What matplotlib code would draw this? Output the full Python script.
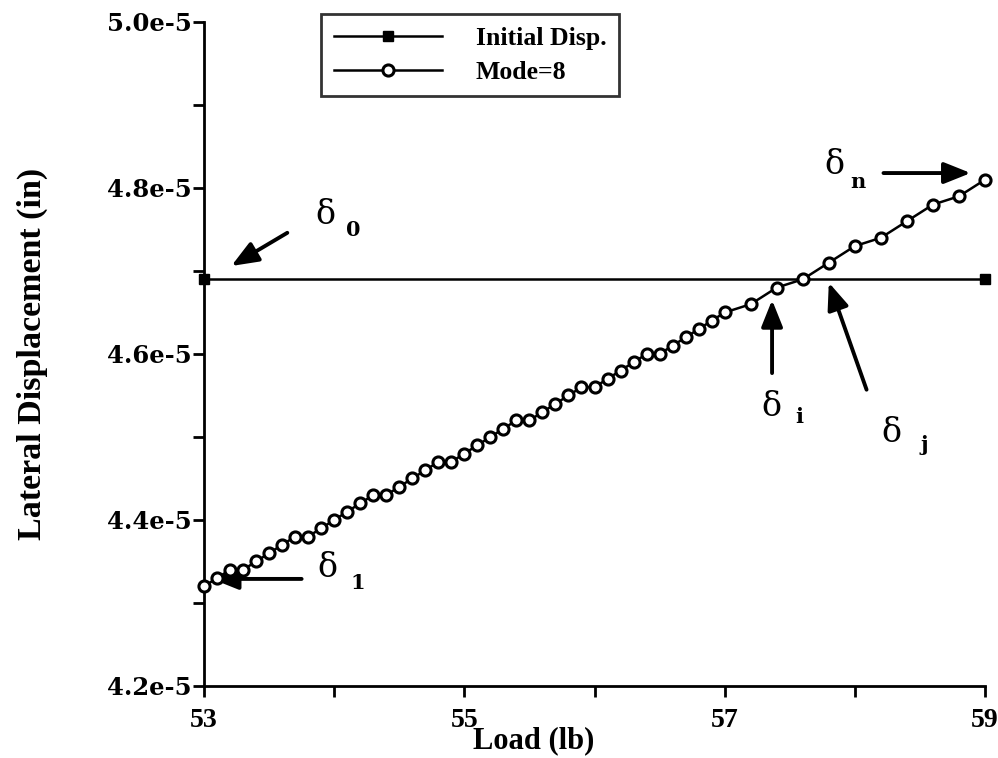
import numpy as np
import matplotlib
matplotlib.use("Agg")
import matplotlib.pyplot as plt
from matplotlib.ticker import MultipleLocator

# data (displacement in units of 1e-5 in)
load_mode = [53.0, 53.1, 53.2, 53.3, 53.4, 53.5, 53.6, 53.7, 53.8, 53.9,
             54.0, 54.1, 54.2, 54.3, 54.4, 54.5, 54.6, 54.7, 54.8, 54.9,
             55.0, 55.1, 55.2, 55.3, 55.4, 55.5, 55.6, 55.7, 55.8, 55.9,
             56.0, 56.1, 56.2, 56.3, 56.4, 56.5, 56.6, 56.7, 56.8, 56.9,
             57.0, 57.2, 57.4, 57.6, 57.8, 58.0, 58.2, 58.4, 58.6, 58.8, 59.0]
disp_mode = [4.32, 4.33, 4.34, 4.34, 4.35, 4.36, 4.37, 4.38, 4.38, 4.39,
             4.40, 4.41, 4.42, 4.43, 4.43, 4.44, 4.45, 4.46, 4.47, 4.47,
             4.48, 4.49, 4.50, 4.51, 4.52, 4.52, 4.53, 4.54, 4.55, 4.56,
             4.56, 4.57, 4.58, 4.59, 4.60, 4.60, 4.61, 4.62, 4.63, 4.64,
             4.65, 4.66, 4.68, 4.69, 4.71, 4.73, 4.74, 4.76, 4.78, 4.79, 4.81]
load_init = [53.0, 59.0]
disp_init = [4.69, 4.69]

x_ticks = [53, 55, 57, 59]
y_ticks = [4.2, 4.4, 4.6, 4.8, 5.0]

scale = 1e-5
disp_mode = np.array(disp_mode) * scale
disp_init = np.array(disp_init) * scale

fig = plt.figure(figsize=(9.98, 7.58), dpi=100)
ax = fig.add_axes([0.2044, 0.095, 0.7826, 0.876])

ax.plot(load_init, disp_init, color="black", lw=1.8, marker="s", ms=7,
        mfc="black", mec="black", label="Initial Disp.", clip_on=False, zorder=3)
ax.plot(load_mode, disp_mode, color="black", lw=1.8, marker="o", ms=8,
        mfc="white", mec="black", mew=2.2, label="Mode=8", clip_on=False, zorder=4)

ax.set_xlim(53, 59)
ax.set_ylim(4.2e-5, 5.0e-5)

# ticks - labels only every other tick
ax.set_xticks(x_ticks, labels=[str(t) for t in x_ticks],
              fontfamily="Liberation Serif", fontweight="bold", fontsize=20)
ax.set_yticks(np.array(y_ticks) * scale, labels=[f"{t:.1f}e-5" for t in y_ticks],
              fontfamily="DejaVu Serif", fontweight="bold", fontsize=17.5)
ax.xaxis.set_minor_locator(MultipleLocator(1))
ax.yaxis.set_minor_locator(MultipleLocator(0.1e-5))

ax.tick_params(which="both", direction="out", width=2, length=8, color="black")
ax.tick_params(axis="x", pad=8)
ax.tick_params(axis="y", pad=1)

for side in ["top", "right"]:
    ax.spines[side].set_visible(False)
for side in ["left", "bottom"]:
    ax.spines[side].set_linewidth(2)

ax.set_xlabel("Load (lb)", fontfamily="Liberation Serif", fontweight="bold",
              fontsize=22)
ax.xaxis.set_label_coords(0.4225, -0.06)
ax.set_ylabel("Lateral Displacement (in)", fontfamily="Liberation Serif",
              fontweight="bold", fontsize=24.5)
ax.yaxis.set_label_coords(-0.2, 0.5)

leg = ax.legend(loc="upper left", bbox_to_anchor=(0.322, 0.981),
                bbox_transform=fig.transFigure, frameon=True, fancybox=False,
                edgecolor="black", handlelength=4.2, handletextpad=1.3,
                borderpad=0.5, labelspacing=0.4, borderaxespad=0,
                prop={"family": "Liberation Serif", "weight": "bold", "size": 18.5})
leg.get_frame().set_linewidth(2)

# delta annotations
arrow = dict(arrowstyle="-|>,head_length=0.9,head_width=0.36", lw=2.8,
             color="black", shrinkA=0, shrinkB=0, mutation_scale=18)
dfont = dict(fontfamily="DejaVu Serif", fontsize=24,
             ha="center", va="center")
sfont = dict(fontfamily="DejaVu Serif", fontweight="bold", fontsize=15,
             ha="center", va="center")

ax.annotate("", xy=(53.21, 4.706e-5), xytext=(53.64, 4.746e-5), arrowprops=arrow)
ax.text(53.93, 4.767e-5, "δ", **dfont)
ax.text(54.15, 4.749e-5, "0", **sfont)

ax.annotate("", xy=(53.06, 4.329e-5), xytext=(53.75, 4.329e-5), arrowprops=arrow)
ax.text(53.95, 4.342e-5, "δ", **dfont)
ax.text(54.18, 4.324e-5, "1", **sfont)

ax.annotate("", xy=(57.364, 4.665e-5), xytext=(57.364, 4.577e-5), arrowprops=arrow)
ax.text(57.36, 4.536e-5, "δ", **dfont)
ax.text(57.57, 4.524e-5, "i", **sfont)

ax.annotate("", xy=(57.80, 4.686e-5), xytext=(58.09, 4.557e-5), arrowprops=arrow)
ax.text(58.28, 4.505e-5, "δ", **dfont)
ax.text(58.53, 4.49e-5, "j", **sfont)

ax.annotate("", xy=(58.89, 4.818e-5), xytext=(58.22, 4.818e-5), arrowprops=arrow)
ax.text(57.84, 4.828e-5, "δ", **dfont)
ax.text(58.02, 4.807e-5, "n", **sfont)

fig.savefig("out.png", dpi=100)
